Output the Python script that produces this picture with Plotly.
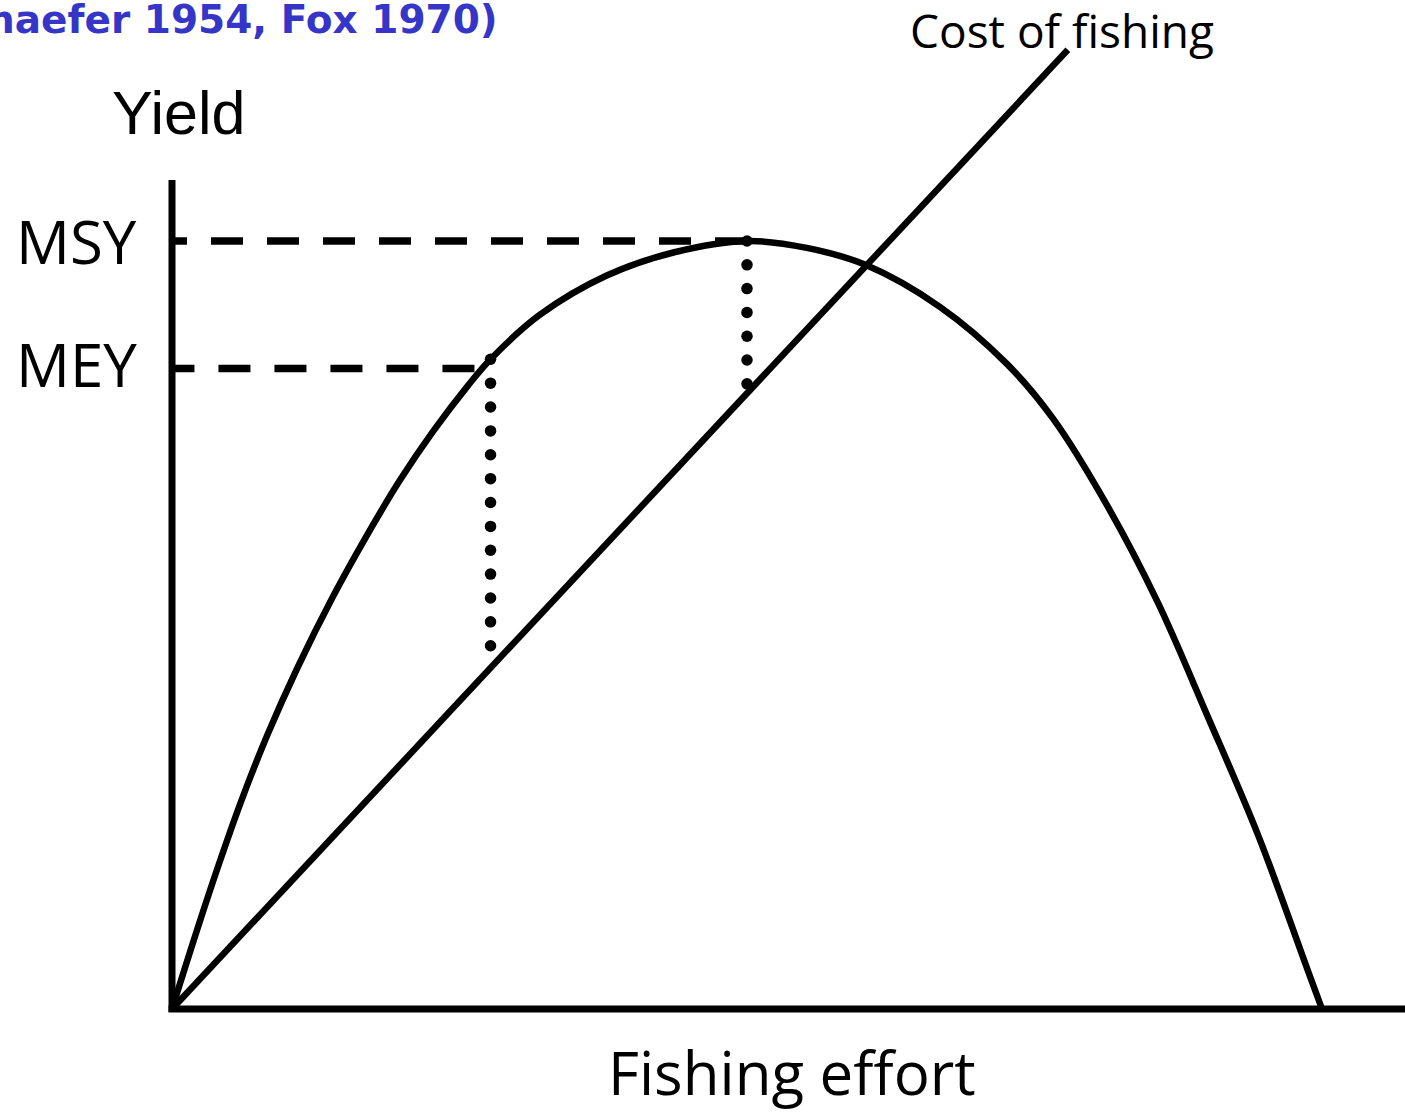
import numpy as np
import plotly.graph_objects as go

# Yield curve (effort units: 0..100, yield units: MSY = 100)
effort = [0, 2.2, 4.2, 6.1, 8.3, 10.9, 14.0, 17.0, 19.8, 22.7, 25.7, 27.7, 32.0, 37.8,
          43.6, 50.0, 55.2, 60.3, 66.8, 72.6, 76.6, 81.3, 85.7, 90.0, 94.4, 98.7, 100]
yield_ = [0, 10.4, 19.4, 27.4, 35.7, 44.4, 53.7, 61.8, 68.8, 75.2, 81.1, 84.6, 90.4, 95.5,
          98.5, 100, 99.1, 96.9, 91.4, 84.0, 76.9, 65.6, 53.0, 38.3, 22.8, 5.3, 0]

# Cost of fishing (straight line from origin)
cost_effort = [0, 77.9]
cost_value = [0, 124.9]

# Reference levels
msy, msy_effort = 100, 50.0
mey, mey_effort = 83.4, 26.3
mey_dot_effort = 27.7
msy_dots = [100, 81.4]
mey_dots = [84.6, 47.3]

# pixel mapping helpers (figure is 1405 x 1112, origin at px 172, 1009)
W, H = 1405, 1112
x0, y0, sx, sy = 172, 1009, 11.5, 7.68
xr = [-x0 / sx, (W - x0) / sx]
yr = [(y0 - H) / sy, y0 / sy]

fig = go.Figure()

# axes
fig.add_shape(type="line", x0=0, x1=0, y0=-0.4, y1=(y0 - 180) / sy,
              line=dict(color="black", width=7))
fig.add_shape(type="line", x0=-0.3, x1=xr[1], y0=0, y1=0,
              line=dict(color="black", width=7))

# dashed reference lines, drawn from right to left so dashes line up at the curve
fig.add_trace(go.Scatter(x=[msy_effort, 0], y=[msy, msy], mode="lines",
                         line=dict(color="black", width=7.5, dash="32px,24px")))
fig.add_trace(go.Scatter(x=[mey_effort, 0], y=[mey, mey], mode="lines",
                         line=dict(color="black", width=7.5, dash="32px,24px")))

# yield curve and cost line
fig.add_trace(go.Scatter(x=effort, y=yield_, mode="lines",
                         line=dict(color="black", width=6.5, shape="spline", smoothing=1.0)))
fig.add_trace(go.Scatter(x=cost_effort, y=cost_value, mode="lines",
                         line=dict(color="black", width=6.5)))

# dotted gaps between yield and cost
fig.add_trace(go.Scatter(x=[mey_dot_effort] * 13, y=np.linspace(mey_dots[0], mey_dots[1], 13),
                         mode="markers", marker=dict(color="black", size=11.5)))
fig.add_trace(go.Scatter(x=[msy_effort] * 7, y=np.linspace(msy_dots[0], msy_dots[1], 7),
                         mode="markers", marker=dict(color="black", size=11.5)))

def px(x, y):
    return (x - x0) / sx, (y0 - y) / sy

annots = []
for text, (cx, cy), size, fam in [
    ("Yield", (178, 113), 61, "Liberation Sans"),
    ("MSY", (76, 241), 60, "Open Sans"),
    ("MEY", (76, 364), 60, "Open Sans"),
    ("Fishing effort", (792, 1072), 60, "Open Sans"),
    ("Cost of fishing", (1062, 30), 46, "Open Sans"),
]:
    ax, ay = px(cx, cy)
    annots.append(dict(x=ax, y=ay, text=text, showarrow=False, xanchor="center",
                       yanchor="middle", font=dict(family=fam, size=size, color="black")))

# heading runs off the left edge, as in the slide this was taken from
tx, ty = px(500, 19)
annots.append(dict(x=tx, y=ty, text="<b>(Schaefer 1954, Fox 1970)</b>", showarrow=False,
                   xanchor="right", yanchor="middle",
                   font=dict(family="DejaVu Sans", size=39, color="#3535C8")))

fig.update_layout(
    width=W, height=H, autosize=False,
    margin=dict(l=0, r=0, t=0, b=0),
    paper_bgcolor="white", plot_bgcolor="white",
    showlegend=False,
    xaxis=dict(range=xr, visible=False, fixedrange=True),
    yaxis=dict(range=yr, visible=False, fixedrange=True),
    annotations=annots,
)

# drop the default page margin so the figure sits at the window's corner
fig.write_html("out.html", config={"displayModeBar": False},
               post_script="document.body.style.margin='0';document.body.style.overflow='hidden';")
